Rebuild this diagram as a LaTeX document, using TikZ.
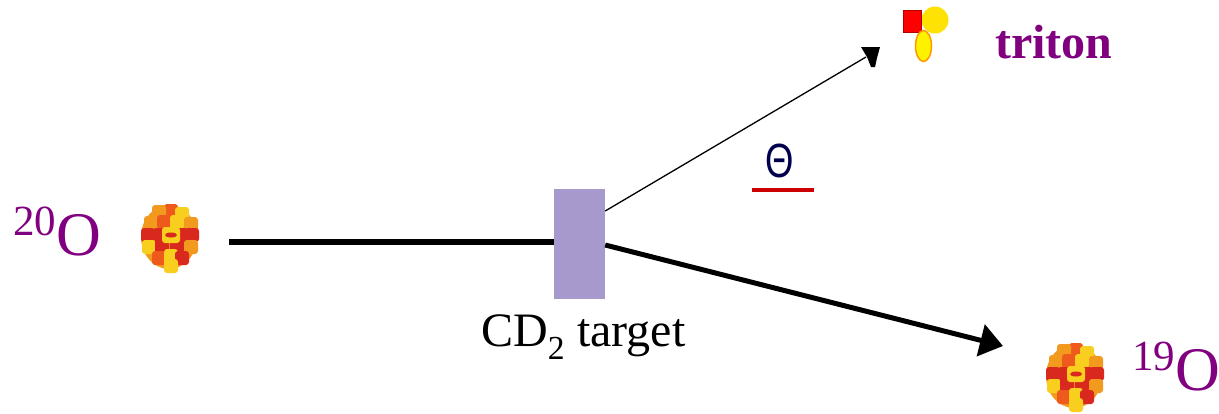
\documentclass[tikz,border=0pt]{standalone}
\usepackage{fontspec}
\setmainfont{Liberation Serif}
\newfontfamily\thetafont{Liberation Sans}
\usetikzlibrary{arrows.meta,shapes.geometric}
\definecolor{nuclabel}{HTML}{800080}
\definecolor{targetfill}{HTML}{A899CC}
\definecolor{nred}{HTML}{D9281E}
\definecolor{nmid}{HTML}{EE5A1C}
\definecolor{norange}{HTML}{F29A1E}
\definecolor{nyellow}{HTML}{F8CF1E}
\newcommand{\isotopemark}[1]{\raisebox{20pt}{\fontsize{43}{43}\selectfont #1}O}
\tikzset{
  x=1pt,y=-1pt,
  beam/.style={line width=5.5pt,black},
  heavy/.style={line width=5pt,black},
  thin beam/.style={line width=1.3pt,black},
  isotope/.style={text=nuclabel,font=\fontsize{62}{62}\selectfont,anchor=base west,inner sep=0pt},
  nucleus/.pic={
    \fill[norange] (0,-1) ellipse [x radius=28,y radius=32];
    \foreach \px/\py/\c in {
      2/-27/nmid,-10/-26/norange,13/-24/nyellow,
      -18/-15/norange,-5/-16/nmid,8/-16/nyellow,22/-14/norange,
      -21/-3/nred,-9/-3/nred,12/-3/nred,23/-3/nred,
      -20/9/nyellow,-7/8/nred,8/8/nred,22/9/norange,
      -10/20/nmid,2/18/nyellow,13/20/nred,2/28/nyellow}
      \fill[\c,rounded corners=3pt] (\px-7,\py-7) rectangle (\px+7,\py+7);
    \fill[nyellow,rounded corners=3pt] (-7,-11) rectangle (11,5);
    \fill[nred] (2,-3) ellipse [x radius=6,y radius=2.5];
  }
}
\begin{document}
\begin{tikzpicture}
\useasboundingbox (0,0) rectangle (1219,413);
\fill[white] (0,0) rectangle (1219,413);

% target and incoming beam
\node[rectangle,fill=targetfill,inner sep=0pt,minimum width=51pt,minimum height=110pt] (target) at (579.5,244) {};
\coordinate (beamstart) at (229,242);
\draw[beam] (beamstart) -- (target.west |- beamstart);

% outgoing light particle, its head set by hand
\coordinate (lightend) at (866,57);
\draw[thin beam] (target.east |- 0,211) -- (lightend);
\fill[black] (861,47) -- (880,47) -- (877,58) -- (875,67) -- (871,67) -- (867,57) -- cycle;

% outgoing heavy residue
\coordinate (heavytip) at (1003,346);
\draw[heavy,-{Triangle[length=23pt,width=32pt]}] (target.east |- 0,245) -- (heavytip);

% nuclei
\pic at (169,238) {nucleus};
\pic at (1074,377) {nucleus};

% triton cluster
\node[circle,fill=yellow!85!orange,inner sep=0pt,minimum size=27pt] (neutronA) at (935,20) {};
\node[rectangle,fill=red,draw=red!70!black,line width=.5pt,inner sep=0pt,minimum width=18pt,minimum height=22pt] (proton) at (912,21) {};
\node[ellipse,fill=yellow,draw=orange!80!yellow,line width=1.5pt,inner sep=0pt,minimum width=16pt,minimum height=31pt] (neutronB) at (923.5,46) {};

% scattering angle mark
\node[inner sep=0pt,text=black!70!blue,font=\thetafont\fontsize{48}{48}\selectfont,xscale=.76] (theta) at (780,161) {Θ};
\coordinate (ruleL) at (752,190);
\coordinate (ruleR) at (814,190);
\draw[line width=4pt,color=red!80!black] (ruleL) -- (ruleR);

% labels
\node[isotope] (oxyA) at (13,255) {\isotopemark{20}};
\node[isotope] (oxyB) at (1132,390) {\isotopemark{19}};
\node[text=nuclabel,font=\fontsize{48}{48}\selectfont\bfseries,anchor=base west,inner sep=0pt] (triton) at (995,58) {triton};
\node[font=\fontsize{48}{48}\selectfont,anchor=base west,inner sep=0pt] (targetlabel) at (481,346) {CD\textsubscript{2} target};
\end{tikzpicture}
\end{document}
